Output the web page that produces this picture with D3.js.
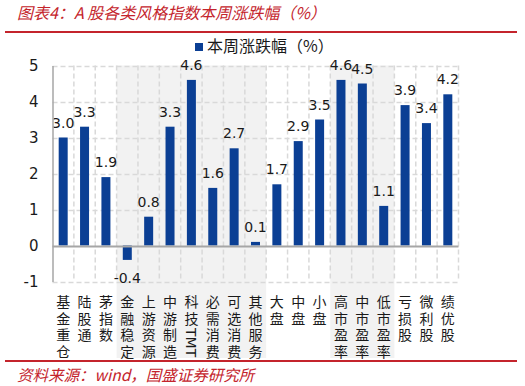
<!DOCTYPE html>
<html>
<head>
  <meta charset="utf-8">
  <script src="https://d3js.org/d3.v7.min.js"></script>
  <style>
    body { margin: 0; background: #fff; }
  </style>
</head>
<body>
<script>

var categories = ["基金重仓", "陆股通", "茅指数", "金融稳定", "上游资源", "中游制造", "科技TMT",
                  "必需消费", "可选消费", "其他服务", "大盘", "中盘", "小盘", "高市盈率",
                  "中市盈率", "低市盈率", "亏损股", "微利股", "绩优股"];
var values = [3.0, 3.3, 1.9, -0.4, 0.8, 3.3, 4.6, 1.6, 2.7, 0.1, 1.7, 2.9, 3.5, 4.6, 4.5, 1.1, 3.9, 3.4, 4.2];
var yTicks = [-1, 0, 1, 2, 3, 4, 5];
// groups drawn with grey background
var shaded = [["金融稳定", "其他服务"], ["高市盈率", "低市盈率"]];

var width = 525,
    height = 386;

var plot = {left: 52.5, right: 458.5, top: 65.5, bottom: 281.5};
var labelBottom = 358;

var red = "#c4242c",
    blue = "#0b3f94",
    grid = "#d9d9d9",
    cjk = "'Noto Sans CJK SC', sans-serif";

var svg = d3.select("body")
  .append("svg")
  .attr("width", width)
  .attr("height", height);

var x = d3.scaleBand().domain(categories).range([plot.left, plot.right]).padding(0),
    y = d3.scaleLinear().domain([-1, 5]).range([plot.bottom, plot.top]);

// title + red rules
svg.append("text")
  .attr("x", 17)
  .attr("y", 19)
  .attr("fill", red)
  .attr("font-family", cjk)
  .attr("font-style", "italic")
  .attr("font-size", 16)
  .text("图表4：A 股各类风格指数本周涨跌幅（%）");

svg.append("line")
  .attr("x1", 5).attr("x2", 517)
  .attr("y1", 32).attr("y2", 32)
  .attr("stroke", red).attr("stroke-width", 2);

svg.append("line")
  .attr("x1", 5).attr("x2", 517)
  .attr("y1", 361).attr("y2", 361)
  .attr("stroke", red).attr("stroke-width", 2);

svg.append("text")
  .attr("x", 17)
  .attr("y", 381)
  .attr("fill", red)
  .attr("font-family", cjk)
  .attr("font-style", "italic")
  .attr("font-size", 15.5)
  .text("资料来源：wind，国盛证券研究所");

// grey bands
shaded.forEach(function(s) {
  var x0 = x(s[0]), x1 = x(s[1]) + x.bandwidth();
  svg.append("rect")
    .attr("x", x0)
    .attr("y", plot.top)
    .attr("width", x1 - x0)
    .attr("height", labelBottom - plot.top)
    .attr("fill", "#f2f2f2");
});

// gridlines
svg.append("g")
  .selectAll("line")
  .data(yTicks.filter(function(d) { return d != 0; }))
  .enter().append("line")
  .attr("x1", plot.left).attr("x2", plot.right)
  .attr("y1", function(d) { return Math.round(y(d)) + 0.5; })
  .attr("y2", function(d) { return Math.round(y(d)) + 0.5; })
  .attr("stroke", grid)
  .attr("stroke-width", 1.5)
  .attr("stroke-dasharray", "5,3");

svg.append("g")
  .selectAll("line")
  .data(categories.slice(1).concat(["end"]))
  .enter().append("line")
  .attr("x1", function(d) { return d == "end" ? plot.right : x(d); })
  .attr("x2", function(d) { return d == "end" ? plot.right : x(d); })
  .attr("y1", plot.top).attr("y2", plot.bottom)
  .attr("stroke", grid)
  .attr("stroke-width", 1.5)
  .attr("stroke-dasharray", "5,3");

// bars
var bw = 9;
svg.append("g")
  .selectAll("rect")
  .data(values)
  .enter().append("rect")
  .attr("x", function(d, i) { return x(categories[i]) + x.bandwidth() / 2 - bw / 2; })
  .attr("y", function(d) { return y(Math.max(0, d)); })
  .attr("width", bw)
  .attr("height", function(d) { return Math.abs(y(d) - y(0)); })
  .attr("fill", blue);

// value labels
svg.append("g")
  .selectAll("text")
  .data(values)
  .enter().append("text")
  .attr("x", function(d, i) { return x(categories[i]) + x.bandwidth() / 2; })
  .attr("y", function(d) { return d >= 0 ? y(d) - 10 : y(d) + 23; })
  .attr("text-anchor", "middle")
  .attr("font-family", "'DejaVu Sans', sans-serif")
  .attr("font-size", 14)
  .attr("fill", "#1a1a1a")
  .text(function(d) { return d.toFixed(1); });

// zero line and y axis
svg.append("line")
  .attr("x1", plot.left).attr("x2", plot.right)
  .attr("y1", Math.round(y(0)) + 0.5).attr("y2", Math.round(y(0)) + 0.5)
  .attr("stroke", "#a6a6a6").attr("stroke-width", 2);

var yAxis = svg.append("g")
  .attr("transform", "translate(" + plot.left + ",0)")
  .call(d3.axisLeft(y).tickValues(yTicks).tickSize(0).tickPadding(14).tickFormat(String));
yAxis.select(".domain").attr("stroke", "#a6a6a6").attr("stroke-width", 1.5);
yAxis.selectAll("text")
  .attr("font-family", "'DejaVu Sans', sans-serif")
  .attr("font-size", 15)
  .attr("fill", "#1a1a1a");

// category labels, written vertically (latin runs turn sideways)
svg.append("g")
  .selectAll("text")
  .data(categories)
  .enter().append("text")
  .attr("x", function(d) { return x(d) + x.bandwidth() / 2; })
  .attr("y", 295)
  .style("writing-mode", "vertical-rl")
  .style("text-orientation", "mixed")
  .attr("font-family", cjk)
  .attr("font-size", 14)
  .attr("fill", "#1a1a1a")
  .each(function(d) {
    var t = d3.select(this);
    d.match(/[A-Za-z]+|./g).forEach(function(p) {
      var latin = /^[A-Za-z]+$/.test(p);
      t.append("tspan")
        .style("letter-spacing", latin ? "0px" : "2.5px")
        .attr("font-family", latin ? "'DejaVu Sans', sans-serif" : cjk)
        .text(p);
    });
  });

// legend
svg.append("rect")
  .attr("x", 195).attr("y", 43)
  .attr("width", 8).attr("height", 8)
  .attr("fill", blue);
svg.append("text")
  .attr("x", 207)
  .attr("y", 52)
  .attr("font-family", cjk)
  .attr("font-size", 16)
  .attr("fill", "#1a1a1a")
  .text("本周涨跌幅（%）");

</script>
</body>
</html>
